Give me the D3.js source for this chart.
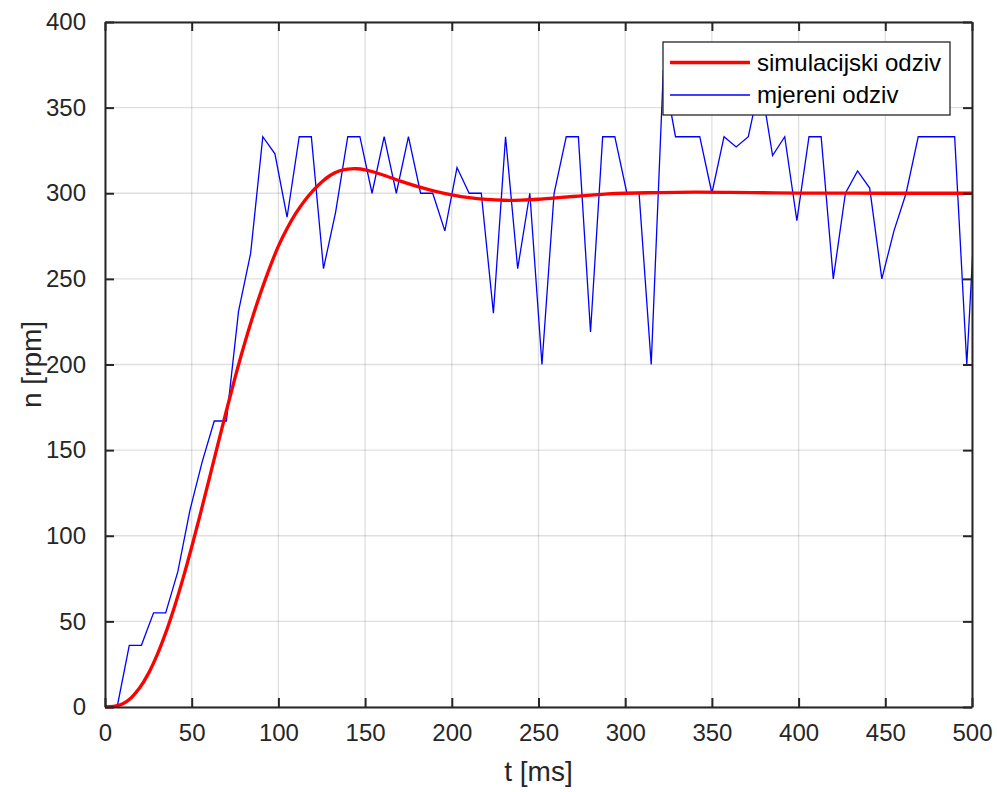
<!DOCTYPE html>
<html>
<head>
<meta charset="utf-8">
<script src="https://cdn.jsdelivr.net/npm/d3@7"></script>
<style>
  html, body { margin: 0; padding: 0; background: #ffffff; }
  svg { display: block; font-family: "Liberation Sans", Arial, sans-serif; }
</style>
</head>
<body>
<svg id="chart" width="997" height="792"></svg>
<script>
// ---- data ----
const measuredTime = [0, 7, 14, 21, 28, 35, 42, 49, 56, 63, 70, 77, 84, 91, 98, 105, 112, 119, 126, 133,
  140, 147, 154, 161, 168, 175, 182, 189, 196, 203, 210, 217, 224, 231, 238, 245, 252, 259, 266, 273,
  280, 287, 294, 301, 308, 315, 322, 329, 336, 343, 350, 357, 364, 371, 378, 385, 392, 399, 406, 413,
  420, 427, 434, 441, 448, 455, 462, 469, 476, 483, 490, 497, 504];
const measuredRpm = [0, 0, 36, 36, 55, 55, 79, 115, 143, 167, 167, 231, 265, 333, 323, 286, 333, 333, 256, 289,
  333, 333, 300, 333, 300, 333, 300, 300, 278, 315, 300, 300, 230, 333, 256, 300, 200, 300, 333, 333,
  219, 333, 333, 300, 300, 200, 372, 333, 333, 333, 300, 333, 327, 333, 366, 322, 333, 284, 333, 333,
  250, 300, 313, 303, 250, 278, 300, 333, 333, 333, 333, 200, 333];

const simTime = [0, 5, 10, 15, 20, 25, 30, 35, 40, 45, 50, 55, 60, 65, 70, 75, 80, 85, 90, 95, 100,
  105, 110, 115, 120, 125, 130, 135, 140, 145, 150, 155, 160, 170, 180, 190, 200, 210, 220, 230, 240,
  250, 260, 270, 280, 290, 300, 320, 340, 360, 380, 400, 450, 500];
const simRpm = [0, 0.3, 1.7, 5.3, 11.2, 19.5, 30.3, 43.3, 58.3, 75.1, 93.4, 112.8, 132.8, 153, 173, 192.3, 210.5, 227.3, 242.6, 256.6, 269.1,
  279.4, 288.2, 295.5, 301.6, 306.6, 310.5, 313, 314.1, 314.3, 313.7, 312.4, 310.8, 307.2, 304, 301.3, 299.1, 297.4, 296.4, 295.9, 296,
  296.5, 297.3, 298.1, 298.9, 299.6, 300, 300.4, 300.6, 300.5, 300.3, 300.1, 300, 300];

const xTicks = [0, 50, 100, 150, 200, 250, 300, 350, 400, 450, 500];
const yTicks = [0, 50, 100, 150, 200, 250, 300, 350, 400];
const seriesNames = ["simulacijski odziv", "mjereni odziv"];
const seriesColors = ["#ff0000", "#0000ff"];
const xLabel = "t [ms]";
const yLabel = "n [rpm]";

// ---- layout ----
const L = 105, R = 972, T = 22, B = 707;
const axisColor = "#262626";
const svg = d3.select("#chart");

const x = d3.scaleLinear().domain([0, 500]).range([L, R]);
const y = d3.scaleLinear().domain([0, 400]).range([B, T]);

// grid
const grid = svg.append("g");
grid.selectAll("line.gx").data(xTicks).join("line")
  .attr("x1", d => x(d)).attr("x2", d => x(d)).attr("y1", T).attr("y2", B)
  .attr("stroke", axisColor).attr("stroke-opacity", 0.15).attr("stroke-width", 1.3);
grid.selectAll("line.gy").data(yTicks).join("line")
  .attr("y1", d => y(d)).attr("y2", d => y(d)).attr("x1", L).attr("x2", R)
  .attr("stroke", axisColor).attr("stroke-opacity", 0.15).attr("stroke-width", 1.3);

// clip
svg.append("clipPath").attr("id", "plotclip")
  .append("rect").attr("x", L).attr("y", T - 2).attr("width", R - L).attr("height", B - T + 4);

const plot = svg.append("g").attr("clip-path", "url(#plotclip)");

const simData = simTime.map((t, i) => [t, simRpm[i]]);
const measData = measuredTime.map((t, i) => [t, measuredRpm[i]]);

plot.append("path").datum(measData)
  .attr("fill", "none").attr("stroke", seriesColors[1]).attr("stroke-width", 1.3)
  .attr("stroke-linejoin", "miter")
  .attr("d", d3.line().x(d => x(d[0])).y(d => y(d[1])));

plot.append("path").datum(simData)
  .attr("fill", "none").attr("stroke", seriesColors[0]).attr("stroke-width", 3.3)
  .attr("d", d3.line().curve(d3.curveCatmullRom.alpha(0.5)).x(d => x(d[0])).y(d => y(d[1])));

// axes (MATLAB box style, inward ticks on all sides)
const tickLen = 9;
const fontSize = 24;
const xAxisB = d3.axisBottom(x).tickValues(xTicks).tickSizeInner(-tickLen).tickSizeOuter(0).tickPadding(tickLen + 8);
const xAxisT = d3.axisTop(x).tickValues(xTicks).tickSizeInner(-tickLen).tickSizeOuter(0).tickFormat("");
const yAxisL = d3.axisLeft(y).tickValues(yTicks).tickSizeInner(-tickLen).tickSizeOuter(0).tickPadding(tickLen + 10);
const yAxisR = d3.axisRight(y).tickValues(yTicks).tickSizeInner(-tickLen).tickSizeOuter(0).tickFormat("");

function styleAxis(g) {
  g.select(".domain").attr("stroke", axisColor).attr("stroke-width", 2);
  g.selectAll(".tick line").attr("stroke", axisColor).attr("stroke-width", 2);
  g.selectAll(".tick text").attr("fill", axisColor).attr("font-size", fontSize)
    .attr("font-family", "'Liberation Sans', Arial, sans-serif");
}
svg.append("g").attr("transform", `translate(0,${B})`).call(xAxisB).call(styleAxis);
svg.append("g").attr("transform", `translate(0,${T})`).call(xAxisT).call(styleAxis);
svg.append("g").attr("transform", `translate(${L},0)`).call(yAxisL).call(styleAxis);
svg.append("g").attr("transform", `translate(${R},0)`).call(yAxisR).call(styleAxis);

// axis labels
svg.append("text").attr("x", (L + R) / 2).attr("y", 781)
  .attr("text-anchor", "middle").attr("font-size", 28).attr("fill", axisColor).text(xLabel);
svg.append("text").attr("transform", `translate(41,${(T + B) / 2}) rotate(-90)`)
  .attr("text-anchor", "middle").attr("font-size", 28).attr("fill", axisColor).text(yLabel);

// legend
const lg = svg.append("g");
lg.append("rect").attr("x", 663).attr("y", 42).attr("width", 287).attr("height", 73)
  .attr("fill", "#ffffff").attr("stroke", axisColor).attr("stroke-width", 1.3);
const legendRows = [
  { name: seriesNames[0], color: seriesColors[0], width: 3.3, yy: 62.5 },
  { name: seriesNames[1], color: seriesColors[1], width: 1.3, yy: 95 }
];
legendRows.forEach(r => {
  lg.append("line").attr("x1", 670).attr("x2", 750).attr("y1", r.yy).attr("y2", r.yy)
    .attr("stroke", r.color).attr("stroke-width", r.width);
  lg.append("text").attr("x", 757).attr("y", r.yy).attr("dy", "0.35em")
    .attr("font-size", fontSize).attr("fill", "#000000").text(r.name);
});
</script>
</body>
</html>
